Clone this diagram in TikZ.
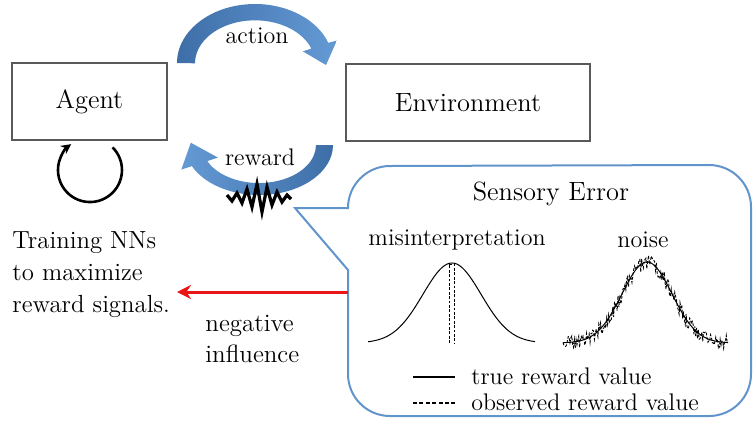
\documentclass[tikz,border=0pt]{standalone}
\usetikzlibrary{arrows.meta}
\definecolor{boxgray}{RGB}{89,89,89}
\definecolor{callblue}{RGB}{98,148,204}
\definecolor{arrdark}{RGB}{62,110,168}
\definecolor{arrlight}{RGB}{100,154,212}
\definecolor{infred}{RGB}{232,22,22}
\begin{document}
\begin{tikzpicture}[x=0.5pt,y=0.5pt,
  box/.style={draw=boxgray,line width=0.6pt,inner sep=0pt,font=\fontsize{13.2}{16}\selectfont},
  lbl/.style={inner sep=0pt,font=\fontsize{12}{15}\selectfont},
  biglbl/.style={inner sep=0pt,font=\fontsize{13.2}{16}\selectfont},
  gauss/.style={line width=0.5pt},
  obs/.style={line width=0.45pt,dash pattern=on 1.4pt off 0.8pt}]
\useasboundingbox (0,0) rectangle (753,420);
% boxes
\node[box,minimum width=77.5pt,minimum height=38.5pt] (agent) at (89.5,318.5) {Agent};
\node[box,minimum width=122pt,minimum height=38.5pt] (env) at (468,317.5) {Environment};
% action arrow
\shade[left color=arrdark,right color=arrlight]
  (177,357) arc[start angle=180,end angle=20,x radius=78,y radius=59]
  -- (336.9,379.5) -- (326,355) -- (302.8,368.7) -- (311.4,371.4)
  arc[start angle=20,end angle=180,x radius=60,y radius=43] -- cycle;
\node[lbl] (action) at (257,384) {action};
% reward arrow
\shade[left color=arrlight,right color=arrdark]
  (333,275) arc[start angle=0,end angle=-155,x radius=74,y radius=50]
  -- (181.3,250.4) -- (190.8,277.3) -- (217.9,262.4) -- (207.3,258.9)
  arc[start angle=-155,end angle=0,x radius=57,y radius=38] -- cycle;
\node[lbl] (reward) at (260,263) {reward};
% zigzag
\draw[line width=1.6pt,line join=miter] (227,225) -- (232,219) -- (237,227) -- (242,217) -- (247,231) -- (252,213) -- (257,236) -- (262,208) -- (267,233) -- (272,215) -- (277,228) -- (282,218) -- (287,225) -- (291,221);
% training loop
\coordinate (loopstart) at (112.6,272.6);
\draw[line width=1.3pt,-{Stealth[length=5pt,width=5pt]}] (loopstart) arc[start angle=45,end angle=-234,radius=32];
\node[anchor=west,align=left,inner sep=0pt,font=\fontsize{12.4}{16}\selectfont] (train) at (12,145) {Training NNs\\to maximize\\reward signals.};
% callout
\coordinate (tip) at (295,212);
\draw[callblue,line width=1pt,line join=miter]
  (tip) -- (348,212) arc[start angle=180,end angle=90,radius=42]
  -- (709,255) arc[start angle=90,end angle=0,radius=42]
  -- (751,46) arc[start angle=0,end angle=-90,radius=42]
  -- (390,4) arc[start angle=-90,end angle=-180,radius=42]
  -- (348,150) -- cycle;
\node[biglbl] (sens) at (551,226) {Sensory Error};
\node[lbl] (mis) at (457,180) {misinterpretation};
\node[lbl] (noise) at (643,180) {noise};
% misinterpretation plot
\draw[gauss] plot[domain=368:535,samples=120,smooth] (\x,{77+80*exp(-((\x-452)^2)/1700)});
\draw[obs] (449,77) -- (449,156) -- (454,156) -- (454,77);
% noise plot
\draw[gauss] plot[domain=563:728,samples=120,smooth] (\x,{77+81*exp(-((\x-647)^2)/1250)});
\pgfmathsetseed{11}
\draw[obs] plot[domain=563:728,samples=190] (\x,{77+81*exp(-((\x-647)^2)/1250)+7.5*rand});
% legend
\coordinate (l1a) at (413,43); \coordinate (l1b) at (455,43);
\coordinate (l2a) at (413,17); \coordinate (l2b) at (455,17);
\draw[line width=0.7pt] (l1a) -- (l1b);
\draw[line width=0.6pt,dash pattern=on 2pt off 1.2pt] (l2a) -- (l2b);
\node[lbl,anchor=west] (leg1) at (471,44) {true reward value};
\node[lbl,anchor=west] (leg2) at (471,18) {observed reward value};
% negative influence
\coordinate (inflA) at (348,128);
\coordinate (inflB) at (177,128);
\draw[infred,line width=1.5pt,-{Stealth[length=7pt,width=7pt]}] (inflA) -- (inflB);
\node[anchor=west,align=left,inner sep=0pt,font=\fontsize{12.5}{15.5}\selectfont] (neg) at (205,81.5) {negative\\influence};
\end{tikzpicture}
\end{document}
